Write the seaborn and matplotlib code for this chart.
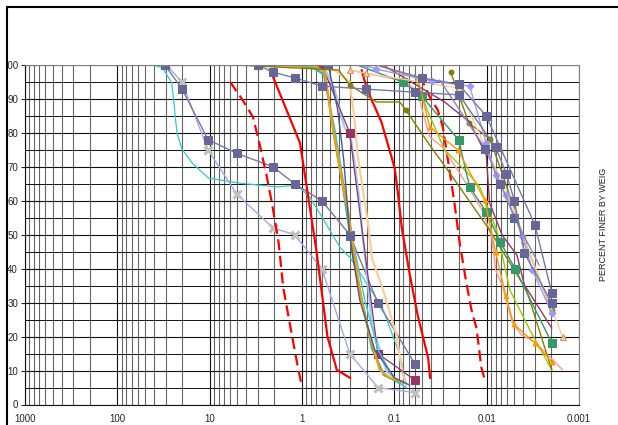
import matplotlib
matplotlib.use("Agg")
import matplotlib.pyplot as plt
import seaborn as sns
from matplotlib.ticker import FixedLocator, LogLocator, NullFormatter, MultipleLocator
from matplotlib.patches import Rectangle
from matplotlib.lines import Line2D

# grain size (mm) / percent finer
x_ticks = [1000, 100, 10, 1, 0.1, 0.01, 0.001]
x_tick_labels = ["1000", "100", "10", "1", "0.1", "0.01", "0.001"]
y_ticks = [0, 10, 20, 30, 40, 50, 60, 70, 80, 90, 100]
side_label = "PERCENT FINER BY WEIG"

# coarse samples
slate_1_d = [30.5, 20.0, 10.4, 5.1, 2.06, 1.2, 0.61, 0.304, 0.151, 0.060]
slate_1_p = [100, 93, 78, 74, 70, 65, 60, 50, 30, 12]

cross_d = [29.5, 20.0, 10.4, 5.1, 2.06, 1.2, 0.61, 0.304, 0.151, 0.060]
cross_p = [100, 95, 75, 62, 52, 50, 40, 15, 5, 3.5]

cyan_d = [40, 32, 25.7, 22.6, 20, 15.3, 10.3, 4.7, 1.9, 1.13, 0.82, 0.60, 0.39, 0.30, 0.134, 0.087, 0.074]
cyan_p = [100, 99, 94.7, 80, 75.3, 71, 66.7, 65.2, 64.1, 64.6, 61, 55, 46.4, 43.2, 28.4, 14.6, 5.7]

# limit curves
red_a_d = [2.06, 1.05, 0.70, 0.53, 0.42, 0.30]
red_a_p = [96.5, 77, 45.5, 20, 10.2, 7.8]

red_dash_l_d = [6.0, 4.4, 3.4, 2.86, 2.4, 2.12, 1.79, 1.6, 1.36, 1.13, 1.0]
red_dash_l_p = [95, 89.7, 84.7, 76.4, 67, 59.4, 47.6, 34.6, 24, 12.2, 5.2]

red_b_d = [0.226, 0.204, 0.18, 0.138, 0.099, 0.091, 0.083, 0.068, 0.056, 0.043, 0.041]
red_b_p = [98.5, 94.1, 90.3, 83.2, 69.6, 61.7, 52, 38.2, 26.4, 13.7, 7.8]

red_dash_r_d = [0.053, 0.0414, 0.0338, 0.0298, 0.0271, 0.0251, 0.0222, 0.0196, 0.0168, 0.0146, 0.0129, 0.0114, 0.0106]
red_dash_r_p = [97, 90.6, 86.7, 81.7, 74.4, 68.5, 58.8, 47.6, 36.7, 27.8, 22.5, 10.8, 7.8]

# sands
orange_d = [3.08, 0.727, 0.567, 0.455, 0.39, 0.32, 0.29, 0.226, 0.185, 0.144, 0.112, 0.08]
orange_p = [100, 99.7, 98, 80, 69.7, 57.3, 49.3, 30.2, 20.5, 10.2, 7.8, 6.6]

teal_d = [1.36, 0.727, 0.567, 0.47, 0.414, 0.367, 0.316, 0.278, 0.215, 0.175, 0.13, 0.087]
teal_p = [100, 99, 97, 83.2, 73.5, 65.5, 53.8, 43.2, 28.4, 16.6, 8.7, 6.3]

teal_2_d = [1.06, 0.60, 0.44, 0.344, 0.268, 0.209, 0.15, 0.099, 0.074]
teal_2_p = [100, 98.5, 81, 63, 45.5, 30.8, 16, 7.2, 4.9]

lblue_d = [1.06, 0.567, 0.442, 0.353, 0.29, 0.268, 0.237, 0.225, 0.197, 0.175, 0.12, 0.087, 0.077]
lblue_p = [100, 99, 92.6, 82.3, 77.3, 70.5, 59.6, 52, 38.2, 23.4, 9.6, 6.6, 5.2]

peach_d = [0.824, 0.442, 0.304, 0.268, 0.25, 0.215, 0.192, 0.175, 0.13, 0.095, 0.082, 0.074]
peach_p = [100, 98.5, 95, 83.2, 73.5, 61.7, 52.9, 43.2, 33.1, 20.5, 9.6, 5.7]

plum_d = [0.61, 0.304, 0.151, 0.060]
plum_p = [100, 80, 15, 7.2]

slate_2_d = [0.52, 0.41, 0.353, 0.304, 0.237, 0.163, 0.099, 0.068]
slate_2_p = [100, 86.7, 72, 49.6, 30.8, 16.1, 7.8, 5.7]

# fines (sieve + hydrometer)
slate_3_d = [3.01, 2.06, 1.2, 0.61, 0.204, 0.060, 0.020, 0.008, 0.0061, 0.005, 0.0039, 0.00197]
slate_3_p = [100, 97.9, 96.2, 93.8, 92.9, 92, 91.2, 75.8, 67.9, 59.9, 44.6, 29.9]

slate_4_d = [0.144, 0.0506, 0.0201, 0.0101, 0.003, 0.00197]
slate_4_p = [99.7, 96.2, 94.3, 85, 52.9, 32.8]

slate_5_d = [0.0323, 0.0103, 0.0071, 0.005, 0.0027]
slate_5_p = [95.6, 75.3, 65, 55, 41.1]

peri_d = [0.205, 0.158, 0.0395, 0.0153, 0.0101, 0.008, 0.0062, 0.0041, 0.0032, 0.00197]
peri_p = [100, 98.8, 95.3, 93.8, 77, 67.6, 61.7, 49.6, 39.6, 27]

olive_1_d = [5.1, 0.40, 0.304, 0.155, 0.0874, 0.075, 0.0414, 0.0265, 0.0093, 0.0037, 0.00197]
olive_1_p = [100, 98.5, 94.1, 89.1, 89.1, 86.7, 76.4, 69.1, 51.4, 33.7, 10.2]

olive_2_d = [0.0245, 0.0156, 0.0092, 0.0064, 0.0039, 0.00197]
olive_2_p = [97.9, 82.9, 78.2, 66.1, 48.4, 27.8]

green_d = [0.237, 0.081, 0.0506, 0.0201, 0.0153, 0.0101, 0.0071, 0.0049, 0.00197]
green_p = [99.7, 95, 90.9, 77.9, 64.1, 56.7, 47.8, 39.9, 18.1]

wine_d = [0.127, 0.0531, 0.0285, 0.0153, 0.0101, 0.0093, 0.0068, 0.0047, 0.0039, 0.00197]
wine_p = [99.7, 93.5, 89.1, 83.2, 73.5, 59.4, 49.9, 44, 35.2, 22.5]

salmon_d = [0.304, 0.0874, 0.057, 0.0414, 0.030, 0.0196, 0.0112, 0.0088, 0.0080, 0.0068, 0.0053, 0.0042, 0.0030, 0.0015]
salmon_p = [98.5, 95.6, 92.6, 78.8, 75.8, 68.2, 57.3, 49.3, 39.6, 35.2, 24.3, 20.5, 18.4, 10.2]

orange_tri_d = [0.144, 0.0556, 0.0414, 0.0205, 0.0105, 0.0080, 0.0062, 0.0051, 0.0030, 0.00197]
orange_tri_p = [99.7, 96.2, 81.7, 75, 60.2, 44.9, 32, 23.7, 18.1, 12.5]

ygreen_d = [0.0601, 0.044, 0.0285, 0.0153, 0.0119, 0.0078, 0.0056, 0.0034, 0.00197]
ygreen_p = [97.1, 86.7, 75, 67.6, 64.1, 51.4, 33.7, 21.9, 10.2]

tan_d = [0.304, 0.204, 0.0201, 0.0101, 0.0056, 0.0039, 0.0015]
tan_p = [98.5, 97.6, 93.2, 75.3, 60.8, 48.4, 19.9]


SLATE = "#666699"
series = [
    (cyan_d, cyan_p, dict(color="#33CCCC", lw=0.9)),
    (cross_d, cross_p, dict(color="#A8A8E8", lw=1.0, marker="x", ms=6, mew=2.2, mec="#C0C0C0")),
    (slate_1_d, slate_1_p, dict(color="#7777AA", lw=1.0, marker="s", ms=6, mfc=SLATE, mec=SLATE)),
    (red_dash_l_d, red_dash_l_p, dict(color="#FF0000", lw=1.6, dashes=(5, 2.5))),
    (red_a_d, red_a_p, dict(color="#FF0000", lw=1.6)),
    (peach_d, peach_p, dict(color="#FFCC99", lw=1.6)),
    (lblue_d, lblue_p, dict(color="#99CCFF", lw=1.6)),
    (plum_d, plum_p, dict(color="#993366", lw=0.9, marker="s", ms=6, mfc="#993366", mec="#993366")),
    (teal_2_d, teal_2_p, dict(color="#33CCCC", lw=1.0)),
    (teal_d, teal_p, dict(color="#22BBBB", lw=1.6)),
    (orange_d, orange_p, dict(color="#FF9900", lw=1.6)),
    (slate_2_d, slate_2_p, dict(color="#555588", lw=1.0, marker="s", ms=6, mfc=SLATE, mec=SLATE, markevery=[0, 3])),
    (red_b_d, red_b_p, dict(color="#FF0000", lw=1.6)),
    (red_dash_r_d, red_dash_r_p, dict(color="#FF0000", lw=1.6, dashes=(5, 2.5))),
    (salmon_d, salmon_p, dict(color="#FF9999", lw=1.0)),
    (ygreen_d, ygreen_p, dict(color="#99CC00", lw=1.0)),
    (olive_1_d, olive_1_p, dict(color="#808000", lw=1.0, marker="o", ms=3.5, mec="#808000", markevery=[2, 5])),
    (olive_2_d, olive_2_p, dict(color="#808000", lw=1.0, marker="o", ms=3.5, mec="#808000", markevery=[0, 1, 2, 5])),
    (wine_d, wine_p, dict(color="#993366", lw=1.0)),
    (green_d, green_p, dict(color="#339966", lw=1.0, marker="s", ms=6, mec="#339966", markevery=list(range(1, 9)))),
    (orange_tri_d, orange_tri_p, dict(color="#FF9900", lw=1.0, marker="^", ms=3.5, mec="#FF9900", markevery=list(range(2, 10)))),
    (tan_d, tan_p, dict(color="#FFCC99", lw=1.0, marker="^", ms=5, mfc="#FFCC99", mec="#CC9966")),
    (peri_d, peri_p, dict(color="#9999FF", lw=1.0, marker="D", ms=3.5, mec="#9999FF")),
    (slate_5_d, slate_5_p, dict(color="#8888BB", lw=1.0, marker="s", ms=6, mfc=SLATE, mec=SLATE, markevery=[1, 2, 3])),
    (slate_4_d, slate_4_p, dict(color="#7777AA", lw=1.0, marker="s", ms=6, mfc=SLATE, mec=SLATE, markevery=[1, 2, 3, 4, 5])),
    (slate_3_d, slate_3_p, dict(color="#7777AA", lw=1.0, marker="s", ms=6, mfc=SLATE, mec=SLATE)),
]

sns.set_style("white")
plt.rcParams["font.family"] = ["Liberation Sans", "DejaVu Sans"]

fig = plt.figure(figsize=(6.18, 4.25), dpi=100)
ax = fig.add_axes([25 / 618, 20.5 / 425, 554 / 618, 339.5 / 425])

for d, p, style in series:
    sns.lineplot(x=d, y=p, ax=ax, sort=False, estimator=None, legend=False, **style)

ax.set_xscale("log")
ax.set_xlim(1000, 0.001)
ax.set_ylim(0, 100)

ax.xaxis.set_major_locator(FixedLocator(x_ticks))
ax.set_xticklabels(x_tick_labels)
ax.xaxis.set_minor_locator(LogLocator(base=10, subs=[2, 3, 4, 5, 6, 7, 8, 9], numticks=20))
ax.xaxis.set_minor_formatter(NullFormatter())
ax.set_yticks(y_ticks)
ax.yaxis.set_minor_locator(MultipleLocator(5))

ax.set_axisbelow(True)
ax.grid(which="major", axis="both", color="#111111", lw=0.8)
ax.grid(which="minor", axis="x", color="#666666", lw=0.8)
ax.grid(which="minor", axis="y", color="#111111", lw=0.7)

ax.tick_params(axis="x", which="both", length=0, pad=7, labelsize=7)
ax.tick_params(axis="y", which="major", length=3, width=0.8, pad=2, labelsize=7, left=True)
ax.tick_params(axis="y", which="minor", length=0)
ax.set_xlabel("")
ax.set_ylabel("")

for side in ["top", "right"]:
    ax.spines[side].set_color("#808080")
for side in ["left", "bottom"]:
    ax.spines[side].set_color("#111111")

fig.text(603 / 618, 1 - 224 / 425, side_label, rotation=90, ha="center", va="center",
         fontsize=6.5, color="#222222")

# outer chart-area frame (left and top edges)
fig.patches.append(Rectangle((0, 0), 6 / 618, 1, transform=fig.transFigure,
                             color="white", zorder=10))
fig.lines.append(Line2D([6.5 / 618, 6.5 / 618], [0, 1 - 6.5 / 425], transform=fig.transFigure,
                        color="black", lw=1.5, zorder=11))
fig.lines.append(Line2D([6.5 / 618, 1], [1 - 6.5 / 425, 1 - 6.5 / 425], transform=fig.transFigure,
                        color="black", lw=1.5, zorder=11))

plt.savefig("out.png", dpi=100)
plt.close()
